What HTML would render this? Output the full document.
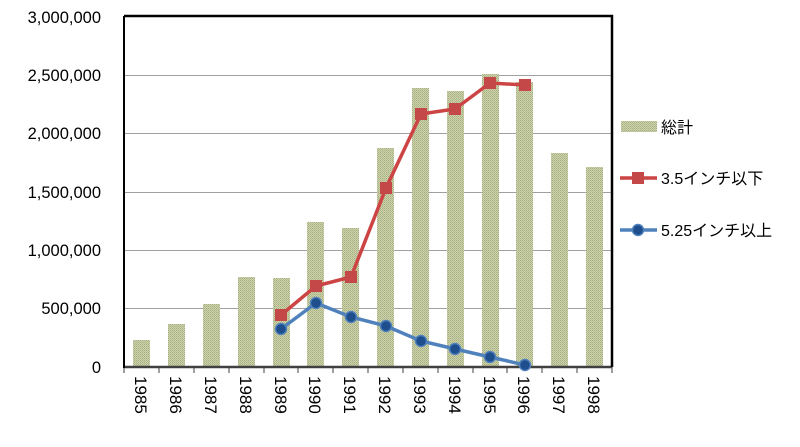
<!DOCTYPE html>
<html><head><meta charset="utf-8"><style>body{margin:0;background:#fff}svg{display:block}</style></head><body>
<svg width="800" height="447" viewBox="0 0 800 447" xmlns="http://www.w3.org/2000/svg" font-family="Liberation Sans, Noto Sans CJK JP, sans-serif">
<defs><pattern id="p" width="2" height="2" patternUnits="userSpaceOnUse"><rect width="2" height="2" fill="#cdd4ad"/><rect width="1" height="1" fill="#a6ae80"/><rect x="1" y="1" width="1" height="1" fill="#b4bc8e"/></pattern></defs>
<g stroke="#a0a0a0" stroke-width="1">
<line x1="124" y1="75.5" x2="612" y2="75.5"/><line x1="124" y1="133.5" x2="612" y2="133.5"/><line x1="124" y1="192.5" x2="612" y2="192.5"/><line x1="124" y1="250.5" x2="612" y2="250.5"/><line x1="124" y1="308.5" x2="612" y2="308.5"/>
</g>
<g fill="url(#p)">
<rect x="133" y="340" width="17" height="27"/><rect x="168" y="324" width="17" height="43"/><rect x="203" y="304" width="17" height="63"/><rect x="238" y="277" width="17" height="90"/><rect x="273" y="278" width="17" height="89"/><rect x="307" y="222" width="17" height="145"/><rect x="342" y="228" width="17" height="139"/><rect x="377" y="148" width="17" height="219"/><rect x="412" y="88" width="17" height="279"/><rect x="447" y="91" width="17" height="276"/><rect x="482" y="74" width="17" height="293"/><rect x="516" y="82" width="17" height="285"/><rect x="551" y="153" width="17" height="214"/><rect x="586" y="167" width="17" height="200"/>
</g>
<line x1="124" y1="367" x2="612" y2="367" stroke="#404040" stroke-width="2.5"/>
<g stroke="#404040" stroke-width="1"><line x1="124" y1="367" x2="124" y2="373"/><line x1="159" y1="367" x2="159" y2="373"/><line x1="194" y1="367" x2="194" y2="373"/><line x1="229" y1="367" x2="229" y2="373"/><line x1="264" y1="367" x2="264" y2="373"/><line x1="298" y1="367" x2="298" y2="373"/><line x1="333" y1="367" x2="333" y2="373"/><line x1="368" y1="367" x2="368" y2="373"/><line x1="403" y1="367" x2="403" y2="373"/><line x1="438" y1="367" x2="438" y2="373"/><line x1="473" y1="367" x2="473" y2="373"/><line x1="507" y1="367" x2="507" y2="373"/><line x1="542" y1="367" x2="542" y2="373"/><line x1="577" y1="367" x2="577" y2="373"/><line x1="612" y1="367" x2="612" y2="373"/></g>
<path d="M124 16 H612 V367" fill="none" stroke="#000" stroke-width="2.5"/>
<line x1="124" y1="16" x2="124" y2="368" stroke="#000" stroke-width="2"/>
<polyline points="281,315 316,286 351,277 386,188 421,114 455,109 490,83 525,85" fill="none" stroke="#cc4444" stroke-width="3.5"/>
<g fill="#c44848"><rect x="275" y="309" width="12" height="12"/><rect x="310" y="280" width="12" height="12"/><rect x="345" y="271" width="12" height="12"/><rect x="380" y="182" width="12" height="12"/><rect x="415" y="108" width="12" height="12"/><rect x="449" y="103" width="12" height="12"/><rect x="484" y="77" width="12" height="12"/><rect x="519" y="79" width="12" height="12"/></g>
<polyline points="281,329 316,303 351,317 386,326 421,341 455,349 490,357 525,365" fill="none" stroke="#4f81bd" stroke-width="3.5"/>
<g fill="#1f4e8c" stroke="#4f81bd" stroke-width="1.5"><circle cx="281" cy="329" r="5.5"/><circle cx="316" cy="303" r="5.5"/><circle cx="351" cy="317" r="5.5"/><circle cx="386" cy="326" r="5.5"/><circle cx="421" cy="341" r="5.5"/><circle cx="455" cy="349" r="5.5"/><circle cx="490" cy="357" r="5.5"/><circle cx="525" cy="365" r="5.5"/></g>
<g font-size="16.5" text-anchor="end" fill="#000"><text x="101" y="23">3,000,000</text><text x="101" y="81">2,500,000</text><text x="101" y="139">2,000,000</text><text x="101" y="198">1,500,000</text><text x="101" y="256">1,000,000</text><text x="101" y="314">500,000</text><text x="101" y="373">0</text></g>
<g font-size="17" fill="#000">
<text transform="translate(135,376) rotate(90)">1985</text><text transform="translate(170,376) rotate(90)">1986</text><text transform="translate(205,376) rotate(90)">1987</text><text transform="translate(240,376) rotate(90)">1988</text><text transform="translate(275,376) rotate(90)">1989</text><text transform="translate(309,376) rotate(90)">1990</text><text transform="translate(344,376) rotate(90)">1991</text><text transform="translate(379,376) rotate(90)">1992</text><text transform="translate(414,376) rotate(90)">1993</text><text transform="translate(449,376) rotate(90)">1994</text><text transform="translate(484,376) rotate(90)">1995</text><text transform="translate(518,376) rotate(90)">1996</text><text transform="translate(553,376) rotate(90)">1997</text><text transform="translate(588,376) rotate(90)">1998</text>
</g>
<rect x="621" y="121" width="36" height="11" fill="url(#p)"/>
<text x="661" y="133" font-size="16">総計</text>
<line x1="620" y1="178" x2="657" y2="178" stroke="#cc4444" stroke-width="3.5"/><rect x="632" y="172" width="12" height="12" fill="#c44848"/>
<text x="661" y="184" font-size="16">3.5インチ以下</text>
<line x1="620" y1="230" x2="657" y2="230" stroke="#4f81bd" stroke-width="3.5"/><circle cx="638" cy="230" r="5.5" fill="#1f4e8c" stroke="#4f81bd" stroke-width="1.5"/>
<text x="661" y="236" font-size="16">5.25インチ以上</text>
</svg>
</body></html>
